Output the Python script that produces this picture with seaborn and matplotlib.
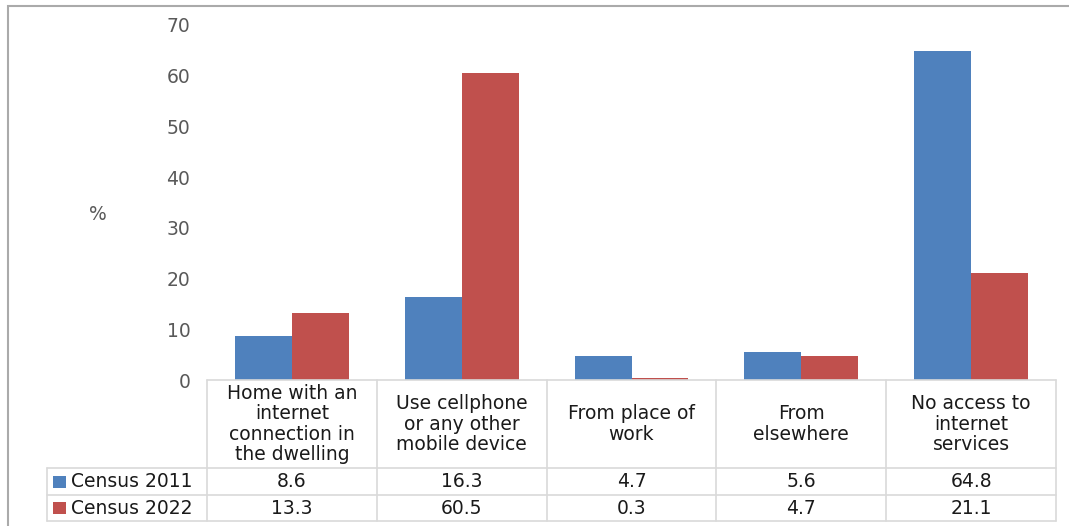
import matplotlib
matplotlib.use("Agg")
import matplotlib.pyplot as plt
import matplotlib.transforms as mtransforms
from matplotlib.patches import Rectangle
from matplotlib.lines import Line2D
import seaborn as sns
import pandas as pd

# Internet access by type, census comparison (%)
categories = [
    "Home with an\ninternet\nconnection in\nthe dwelling",
    "Use cellphone\nor any other\nmobile device",
    "From place of\nwork",
    "From\nelsewhere",
    "No access to\ninternet\nservices",
]
series = ["Census 2011", "Census 2022"]
census_2011 = [8.6, 16.3, 4.7, 5.6, 64.8]
census_2022 = [13.3, 60.5, 0.3, 4.7, 21.1]
yticks = [0, 10, 20, 30, 40, 50, 60, 70]

colors = {"Census 2011": "#4F81BD", "Census 2022": "#C0504D"}

df = pd.DataFrame({
    "category": categories * 2,
    "series": [series[0]] * len(categories) + [series[1]] * len(categories),
    "value": census_2011 + census_2022,
})

W, H = 1069, 526
sns.set_theme(style="white")
plt.rcParams["font.family"] = ["DejaVu Sans"]

fig = plt.figure(figsize=(W / 100, H / 100), dpi=100)
fig.patch.set_facecolor("white")


def fx(x):
    return x / W


def fy(y):
    return 1 - y / H


ax = fig.add_axes([fx(207), fy(380), fx(1056) - fx(207), fy(25) - fy(380)])
sns.barplot(data=df, x="category", y="value", hue="series", hue_order=series,
            order=categories, palette=colors, width=0.67, saturation=1,
            edgecolor="none", linewidth=0, legend=False, ax=ax)

ax.set_xlim(-0.5, len(categories) - 0.5)
ax.set_ylim(0, 70)
ax.set_yticks(yticks)
ax.set_yticklabels([str(t) for t in yticks], fontsize=13.5, color="#595959")
ax.tick_params(axis="y", length=0, pad=12)
ax.set_xticks([])
ax.set_xlabel("")
ax.set_ylabel("")
for s in ax.spines.values():
    s.set_visible(False)

fig.text(fx(98), fy(215), "%", fontsize=13.5, color="#595959",
         ha="center", va="center")

# Data table under the plot
grid = "#d9d9d9"
txt = "#1a1a1a"
xblend = mtransforms.blended_transform_factory(ax.transData, fig.transFigure)
y_top, y_head, y_r1, y_r2 = 380, 468, 495, 521
x_row0 = 47
edges = [i - 0.5 for i in range(len(categories) + 1)]

# horizontal rules
fig.add_artist(Line2D([edges[0], edges[-1]], [fy(y_top)] * 2, transform=xblend,
                      color=grid, lw=1.2))
for yy in (y_head, y_r1, y_r2):
    fig.add_artist(Line2D([fx(x_row0), fx(1056)], [fy(yy)] * 2,
                          transform=fig.transFigure, color=grid, lw=1.2))
# vertical rules
for e in edges:
    fig.add_artist(Line2D([e, e], [fy(y_top), fy(y_r2)], transform=xblend,
                          color=grid, lw=1.2))
fig.add_artist(Line2D([fx(x_row0)] * 2, [fy(y_head), fy(y_r2)],
                      transform=fig.transFigure, color=grid, lw=1.2))

# header cells
for i, cat in enumerate(categories):
    fig.text(i, fy((y_top + y_head) / 2), cat, transform=xblend, ha="center",
             va="center", fontsize=13.5, color=txt, linespacing=1.1)

# value rows
rows = [(series[0], census_2011, (y_head + y_r1) / 2),
        (series[1], census_2022, (y_r1 + y_r2) / 2)]
for name, vals, yc in rows:
    fig.add_artist(Rectangle((fx(53), fy(yc + 6)), fx(13), 12 / H,
                             transform=fig.transFigure,
                             facecolor=colors[name], edgecolor="none"))
    fig.text(fx(71), fy(yc), name, ha="left", va="center", fontsize=13.5,
             color=txt)
    for i, v in enumerate(vals):
        fig.text(i, fy(yc), f"{v:.1f}", transform=xblend, ha="center",
                 va="center", fontsize=13.5, color=txt)

# outer frame
fig.add_artist(Rectangle((fx(8), fy(600)), 1.5, fy(6) - fy(600),
                         transform=fig.transFigure, fill=False,
                         edgecolor="#aaaaaa", lw=1.5))

fig.savefig("out.png", dpi=100)
